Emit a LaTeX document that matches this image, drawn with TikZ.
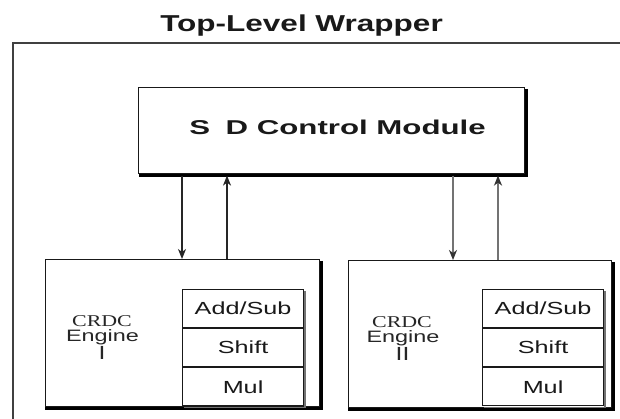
\documentclass[tikz,border=0pt]{standalone}
\usepackage{fontspec}
\setmainfont{Liberation Sans}
\newfontfamily\crdcfont{Liberation Serif}
\usepackage{graphicx}
\usetikzlibrary{arrows.meta}
\newcommand\hstretch[2][1.42]{\scalebox{#1}[1]{#2}}
\begin{document}
\begin{tikzpicture}[x=1pt,y=-1pt,
  box/.style={draw=black!90,line width=1.1pt,inner sep=0pt,anchor=north west},
  cell/.style={box,minimum width=121,minimum height=38,font=\fontsize{17.5}{18}\selectfont,text=black!90},
  shade/.style={draw=black,line width=3pt},
  shadelight/.style={draw=black!55,line width=1.6pt},
  wrap/.style={draw=black!75,line width=2pt},
  engtxt/.style={anchor=base,inner sep=0pt,text=black!85},
  arrdark/.style={draw=black!85,line width=1.5pt,-{Stealth[length=10pt,width=8pt,inset=3pt]}},
  arrgray/.style={draw=black!55,line width=1.7pt,-{Stealth[length=10pt,width=8pt,inset=3pt,color=black!80]}}
]
\useasboundingbox (0,0) rectangle (620,419);
\fill[white] (0,0) rectangle (620,419);

% title and wrapper
\node[anchor=base,inner sep=0pt,font=\fontsize{23}{26}\selectfont\bfseries,text=black!90] (title) at (301.5,32) {\hstretch[1.37]{Top-Level Wrapper}};
\coordinate (wtr) at (620,43);
\coordinate (wtl) at (13,43);
\coordinate (wbl) at (13,419);
\draw[wrap] (wtr) -- (wtl) -- (wbl);

% control module
\node[box,minimum width=386,minimum height=86] (ctrl) at (138,87) {};
\draw[shade] ([xshift=1pt,yshift=-2pt]ctrl.north east) -- ([xshift=1pt,yshift=-1pt]ctrl.south east) -- ([xshift=1pt,yshift=-1pt]ctrl.south west);
\node[anchor=base,inner sep=0pt,font=\fontsize{20}{22}\selectfont\bfseries,text=black!90] (ctrltxt) at (337.5,134.5) {\hstretch[1.56]{S\hspace{10pt}D Control Module}};

% engine boxes
\node[box,minimum width=274,minimum height=147] (eng1) at (45,259) {};
\draw[shade] ([xshift=1.5pt,yshift=-2pt]eng1.north east) -- ([xshift=1.5pt,yshift=-1.5pt]eng1.south east) -- ([yshift=-1.5pt]eng1.south west);
\node[box,minimum width=263,minimum height=147] (eng2) at (348,260) {};
\draw[shade] ([xshift=1.5pt,yshift=-2pt]eng2.north east) -- ([xshift=1.5pt,yshift=-1.5pt]eng2.south east) -- ([yshift=-1.5pt]eng2.south west);

% operation cells, engine I
\node[cell] (add1) at (182,289) {\hstretch[1.44]{Add/Sub}};
\node[cell] (shf1) at (add1.south west) {\hstretch[1.44]{Shift}};
\node[cell] (mul1) at (shf1.south west) {\hstretch[1.44]{Mul}};
\draw[shadelight] ([xshift=1pt,yshift=-2pt]add1.north east) -- ([xshift=1pt,yshift=-1pt]mul1.south east) -- ([xshift=2pt,yshift=-1pt]mul1.south west);
% operation cells, engine II
\node[cell] (add2) at (482,289) {\hstretch[1.44]{Add/Sub}};
\node[cell] (shf2) at (add2.south west) {\hstretch[1.44]{Shift}};
\node[cell] (mul2) at (shf2.south west) {\hstretch[1.44]{Mul}};
\draw[shadelight] ([xshift=1pt,yshift=-2pt]add2.north east) -- ([xshift=1pt,yshift=-1pt]mul2.south east) -- ([xshift=2pt,yshift=-1pt]mul2.south west);

% engine labels
\node[engtxt,font=\fontsize{16.5}{17}\crdcfont] (crdc1) at (102,326) {\hstretch[1.33]{CRDC}};
\node[engtxt,font=\fontsize{16.5}{17}\selectfont] (ename1) at (102.5,341) {\hstretch[1.42]{Engine}};
\node[engtxt,font=\fontsize{19}{19}\selectfont] (enum1) at (102,359.5) {\hstretch[1.3]{I}};
\node[engtxt,font=\fontsize{16.5}{17}\crdcfont] (crdc2) at (402,327) {\hstretch[1.33]{CRDC}};
\node[engtxt,font=\fontsize{16.5}{17}\selectfont] (ename2) at (403,342) {\hstretch[1.42]{Engine}};
\node[engtxt,font=\fontsize{19}{19}\selectfont] (enum2) at (402.5,360.5) {\hstretch[1.3]{II}};

% connectors
\coordinate (a1) at (182,0);
\coordinate (a2) at (227,0);
\coordinate (a3) at (453,0);
\coordinate (a4) at (498,0);
\draw[arrdark] ([yshift=-1.5pt]ctrl.south -| a1) -- (eng1.north -| a1);
\draw[arrdark] (eng1.north -| a2) -- ([yshift=-1.5pt]ctrl.south -| a2);
\draw[arrgray] ([yshift=-1.5pt]ctrl.south -| a3) -- (eng2.north -| a3);
\draw[arrgray] (eng2.north -| a4) -- ([yshift=-1.5pt]ctrl.south -| a4);
\end{tikzpicture}
\end{document}
